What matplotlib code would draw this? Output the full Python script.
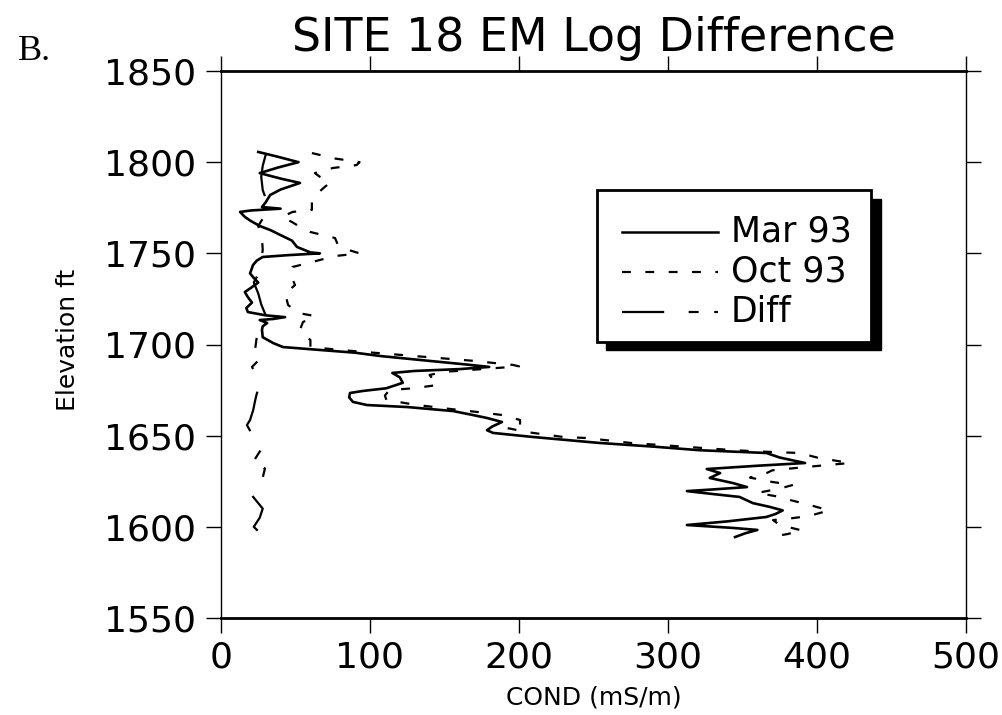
import matplotlib
matplotlib.use("Agg")
import matplotlib.pyplot as plt
from matplotlib.patches import Rectangle
from matplotlib.lines import Line2D

# ---------------- data ----------------
mar_elev = [1805.6, 1803, 1800, 1797, 1794, 1791, 1788.6, 1785, 1782, 1778, 1775.4, 1774.5,
            1773.5, 1772.7, 1770, 1768, 1765, 1762.8, 1760, 1757, 1753.5, 1750.5, 1750, 1749,
            1748, 1746, 1743.6, 1739, 1736.5, 1734, 1731, 1728.8, 1726, 1723, 1720, 1717.8,
            1716, 1715, 1714, 1713.4, 1711.8, 1710, 1708, 1704, 1700.8, 1698.6, 1697, 1695.5,
            1693.7, 1691, 1689, 1687.7, 1686.5, 1685.5, 1684.4, 1682, 1679, 1676, 1674.5,
            1673.4, 1671, 1668.5, 1666.8, 1665.7, 1663.5, 1661.5, 1659.7, 1657.5, 1655, 1653,
            1651.5, 1649.3, 1646, 1644, 1642, 1640.5, 1638, 1635, 1633.5, 1631.7, 1629.5,
            1626.8, 1624, 1621.8, 1620.5, 1619.6, 1618, 1616.4, 1613, 1611, 1609, 1607, 1605.4,
            1603, 1601, 1599.4, 1598.3, 1596.5, 1594.4]
mar_cond = [25, 38, 52, 38, 26, 40, 53, 40, 33, 30, 27.5, 40,
            20, 12.8, 16, 19.5, 26, 33, 40, 47.6, 51, 60, 66.4, 45,
            28, 24, 21.5, 19.5, 22, 25, 20, 16, 18, 20.8, 17, 18,
            30, 43, 35, 26, 31, 28, 27.5, 28, 35, 41.6, 66.4, 90,
            106.7, 140, 165, 180, 160, 130, 115, 120, 122, 111, 95,
            86.6, 86, 88.6, 98, 125, 155.7, 168, 178.5, 188.6, 182, 178.5,
            182.6, 209, 254, 290, 321.5, 366, 375, 392, 360, 326, 335,
            328, 343.6, 353, 330, 312.7, 330, 348, 357, 368, 377, 372, 366,
            340, 312.7, 343.6, 360, 352, 345]

oct_elev = [1805, 1802, 1800, 1798.4, 1796.8, 1794, 1791, 1788.6, 1786, 1783, 1778, 1773.8,
            1772.7, 1770, 1767, 1764, 1761.7, 1758.4, 1754.6, 1752, 1750, 1748.5, 1745, 1742.5,
            1739, 1736.5, 1732.6, 1728, 1725, 1721.7, 1717.3, 1715.6, 1712.3, 1708, 1705,
            1702.5, 1698.6, 1697, 1695, 1693, 1691, 1689.9, 1688.8, 1688, 1686.5, 1685, 1683.3,
            1680, 1677.8, 1676, 1675, 1672, 1669.6, 1667, 1665, 1663, 1661.3, 1658.6, 1655.8,
            1654.2, 1652, 1649.3, 1648.7, 1646, 1644, 1642, 1641, 1640.5, 1638, 1635, 1633,
            1631, 1629, 1627, 1624.6, 1623, 1621, 1618.6, 1616.4, 1614.7, 1612, 1609, 1606,
            1604.8, 1603.7, 1601, 1598, 1596, 1594.4]
oct_cond = [61, 76.5, 93, 91, 75, 63, 68, 73, 69, 65, 61, 61,
            48, 41, 48, 54, 60, 76.5, 78.5, 85, 93, 76.5, 60, 48,
            47, 47.6, 49.7, 43, 44, 45, 51.7, 63, 55, 53, 56,
            60, 60, 80, 110, 140, 170, 182.6, 196, 200, 175, 150, 140,
            143, 145.6, 129, 113, 110, 111, 130, 150, 172, 189, 200.7, 200.7,
            192, 205, 229.5, 245.6, 275, 310, 345, 370.5, 388.6, 400, 422, 395,
            370, 365, 355, 370, 384, 375, 360, 375, 382, 395, 408, 395,
            384, 370.5, 375, 390, 380, 368.5]

diff_elev = [1804, 1798, 1792, 1784.7, 1778, 1771, 1765, 1758, 1752, 1745, 1740, 1734,
             1728, 1722, 1716, 1710, 1704, 1698, 1692, 1687.7, 1683, 1677.8, 1673, 1669.6,
             1664, 1658.6, 1655.8, 1652, 1647.6, 1643.8, 1640, 1635.6, 1632, 1627, 1622,
             1618, 1614, 1610, 1605, 1600, 1596]
diff_cond = [30, 28, 27, 28, 31, 29.5, 25, 27.5, 28, 27, 26, 22,
             25, 27, 30, 25, 24, 23, 26, 20.8, 24, 26, 24, 23,
             21.6, 19.5, 17.4, 20, 24, 28, 25, 21.6, 29.5, 28, 26,
             20, 24, 28, 26, 22, 27]

x_ticks = [0, 100, 200, 300, 400, 500]
y_ticks = [1550, 1600, 1650, 1700, 1750, 1800, 1850]
series_labels = ["Mar 93", "Oct 93", "Diff"]

# ---------------- figure ----------------
plt.rcParams['font.family'] = ['DejaVu Sans']
fig = plt.figure(figsize=(10.03, 7.15), dpi=100)
ax = fig.add_axes([221/1003, 1-618/715, 745/1003, 547/715])

lw = 1.6
oct_dash = (4, 6.5)
diff_dash = (19, 11, 4.5, 7, 4.5, 11)

ax.plot(mar_cond, mar_elev, color='black', lw=1.9, solid_joinstyle='round')
ax.plot(oct_cond, oct_elev, color='black', lw=lw, linestyle=(0, oct_dash))
ax.plot(diff_cond, diff_elev, color='black', lw=lw, linestyle=(0, diff_dash))

ax.set_xlim(0, 500)
ax.set_ylim(1550, 1850)
ax.set_xticks(x_ticks)
ax.set_yticks(y_ticks)
ax.tick_params(axis='both', direction='out', length=11, width=1, labelsize=26,
               top=True, right=True, labeltop=False, labelright=False)
ax.tick_params(axis='y', pad=7)
ax.tick_params(axis='x', pad=5)
for s in ['top', 'bottom']:
    ax.spines[s].set_linewidth(2)
for s in ['left', 'right']:
    ax.spines[s].set_linewidth(1)

fig.text(594/1003, 1-704/715, "COND (mS/m)", fontsize=18, ha='center', va='baseline')
fig.text(68/1003, 1-340/715, "Elevation ft", fontsize=18, rotation=90,
         ha='center', va='center')

fig.text(594/1003, 1-51/715, "SITE 18 EM Log Difference", fontsize=33,
         ha='center', va='baseline')
fig.text(18/1003, 1-60/715, "B.", fontsize=26, family=['Liberation Serif'],
         ha='left', va='baseline')

# ---------------- legend with 3D shadow ----------------
def ax_x(px):
    return (px - 221) / 745
def ax_y(py):
    return (618 - py) / 547

ax.add_patch(Rectangle((ax_x(606), ax_y(350)), ax_x(881) - ax_x(606), ax_y(199) - ax_y(350),
                       transform=ax.transAxes, facecolor='black', edgecolor='black',
                       zorder=5, clip_on=False))
ax.add_patch(Rectangle((ax_x(597), ax_y(342)), ax_x(871) - ax_x(597), ax_y(190) - ax_y(342),
                       transform=ax.transAxes, facecolor='white', edgecolor='black', lw=2,
                       zorder=6, clip_on=False))
rows = [232, 272, 312]
styles = [dict(lw=1.8, linestyle='-'), dict(lw=lw, linestyle=(0, oct_dash)),
          dict(lw=lw, linestyle=(0, diff_dash))]
for label, ry, st in zip(series_labels, rows, styles):
    ax.add_line(Line2D([ax_x(622), ax_x(718)], [ax_y(ry), ax_y(ry)], color='black',
                       transform=ax.transAxes, zorder=7, clip_on=False, **st))
    ax.text(ax_x(731), ax_y(ry), label, transform=ax.transAxes, fontsize=25,
            ha='left', va='center', zorder=7)

fig.savefig("out.png", dpi=100)
